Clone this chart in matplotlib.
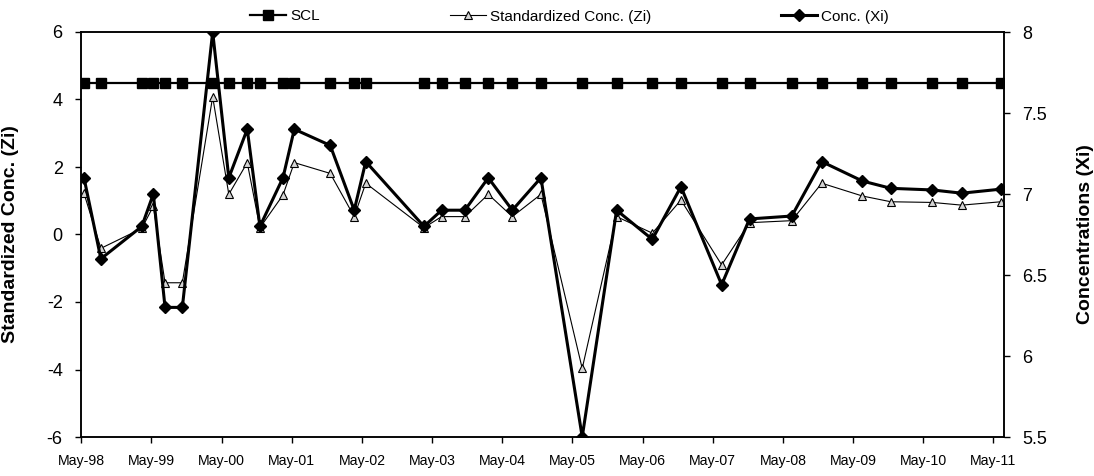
import matplotlib
matplotlib.use('Agg')
import matplotlib.pyplot as plt
import matplotlib.dates as mdates
from datetime import datetime

plt.rcParams['font.family'] = ['Liberation Sans', 'DejaVu Sans']

# ---- data ----
dates = ["1998-05-15", "1998-08-11", "1999-03-12", "1999-05-11", "1999-07-11",
         "1999-10-09", "2000-03-15", "2000-06-07", "2000-09-11", "2000-11-16",
         "2001-03-16", "2001-05-14", "2001-11-17", "2002-03-22", "2002-05-21",
         "2003-03-20", "2003-06-20", "2003-10-19", "2004-02-18", "2004-06-22",
         "2004-11-18", "2005-06-21", "2005-12-17", "2006-06-21", "2006-11-17",
         "2007-06-17", "2007-11-09", "2008-06-16", "2008-11-19", "2009-06-19",
         "2009-11-14", "2010-06-18", "2010-11-18", "2011-06-10"]

conc_xi = [7.10, 6.60, 6.80, 7.00, 6.30, 6.30, 8.00, 7.10, 7.40, 6.80,
           7.10, 7.40, 7.30, 6.90, 7.20, 6.80, 6.90, 6.90, 7.10, 6.90,
           7.10, 5.50, 6.90, 6.72, 7.045, 6.44, 6.846, 6.864, 7.20, 7.08,
           7.035, 7.025, 7.005, 7.03]

std_zi = [1.22, -0.41, 0.18, 0.84, -1.43, -1.43, 4.08, 1.19, 2.13, 0.20,
          1.17, 2.13, 1.81, 0.53, 1.52, 0.20, 0.53, 0.53, 1.19, 0.53,
          1.19, -3.97, 0.53, 0.04, 1.02, -0.90, 0.35, 0.41, 1.52, 1.14,
          0.97, 0.95, 0.87, 0.97]

scl_value = 4.5
scl = [scl_value] * len(dates)

left_ticks = [-6, -4, -2, 0, 2, 4, 6]
right_ticks = [5.5, 6, 6.5, 7, 7.5, 8]
right_ticklabels = ["5.5", "6", "6.5", "7", "7.5", "8"]

x = [datetime.strptime(d, "%Y-%m-%d") for d in dates]

W, H = 1094, 476
fig = plt.figure(figsize=(W / 100, H / 100), dpi=100)
ax = fig.add_axes([81.3 / W, 1 - 437 / H, (1004 - 81.3) / W, (437 - 32) / H])
ax2 = ax.twinx()

l1, = ax.plot(x, scl, color='black', lw=1.6, marker='s', ms=7,
              mfc='black', mec='black', label='SCL')
l2, = ax.plot(x, std_zi, color='black', lw=0.8, marker='^', ms=6.3,
              mfc='#d4d4d4', mec='black', mew=0.8, label='Standardized Conc. (Zi)')
l3, = ax2.plot(x, conc_xi, color='black', lw=2.2, marker='D', ms=5.7,
               mfc='black', mec='black', label='Conc. (Xi)')

ax.set_xlim(datetime(1998, 5, 1), datetime(2011, 6, 26))
ax.set_ylim(-6, 6)
ax2.set_ylim(5.5, 8)
ax.set_yticks(left_ticks)
ax.set_yticklabels([str(t) for t in left_ticks])
ax2.set_yticks(right_ticks)
ax2.set_yticklabels(right_ticklabels)

ax.xaxis.set_major_locator(mdates.YearLocator(1, month=5, day=1))
ax.xaxis.set_major_formatter(mdates.DateFormatter('%b-%y'))

ax.tick_params(axis='x', direction='out', length=4, width=1, labelsize=10.2, pad=8)
ax.tick_params(axis='y', direction='out', length=4, width=1, labelsize=13, pad=9.4)
ax2.tick_params(axis='y', direction='out', length=4.3, width=1, labelsize=13, pad=8.6)

for a in (ax, ax2):
    for s in a.spines.values():
        s.set_linewidth(1.1)
        s.set_color('black')

ax.set_ylabel('Standardized Conc. (Zi)', fontsize=14, fontweight='bold')
ax2.set_ylabel('Concentrations (Xi)', fontsize=14, fontweight='bold')
ax.yaxis.set_label_coords((19 - 81.3) / (1004 - 81.3), 0.5)
ax2.yaxis.set_label_coords((1076.7 - 81.3) / (1004 - 81.3), 0.5)

fig.legend(handles=[l1, l2, l3], loc='center',
           bbox_to_anchor=(569.4 / W, 1 - 16.5 / H), ncol=3, frameon=False,
           fontsize=11, handlelength=2.36, handletextpad=0.26,
           columnspacing=8.5, borderpad=0, borderaxespad=0)

fig.savefig('out.png', dpi=100)
